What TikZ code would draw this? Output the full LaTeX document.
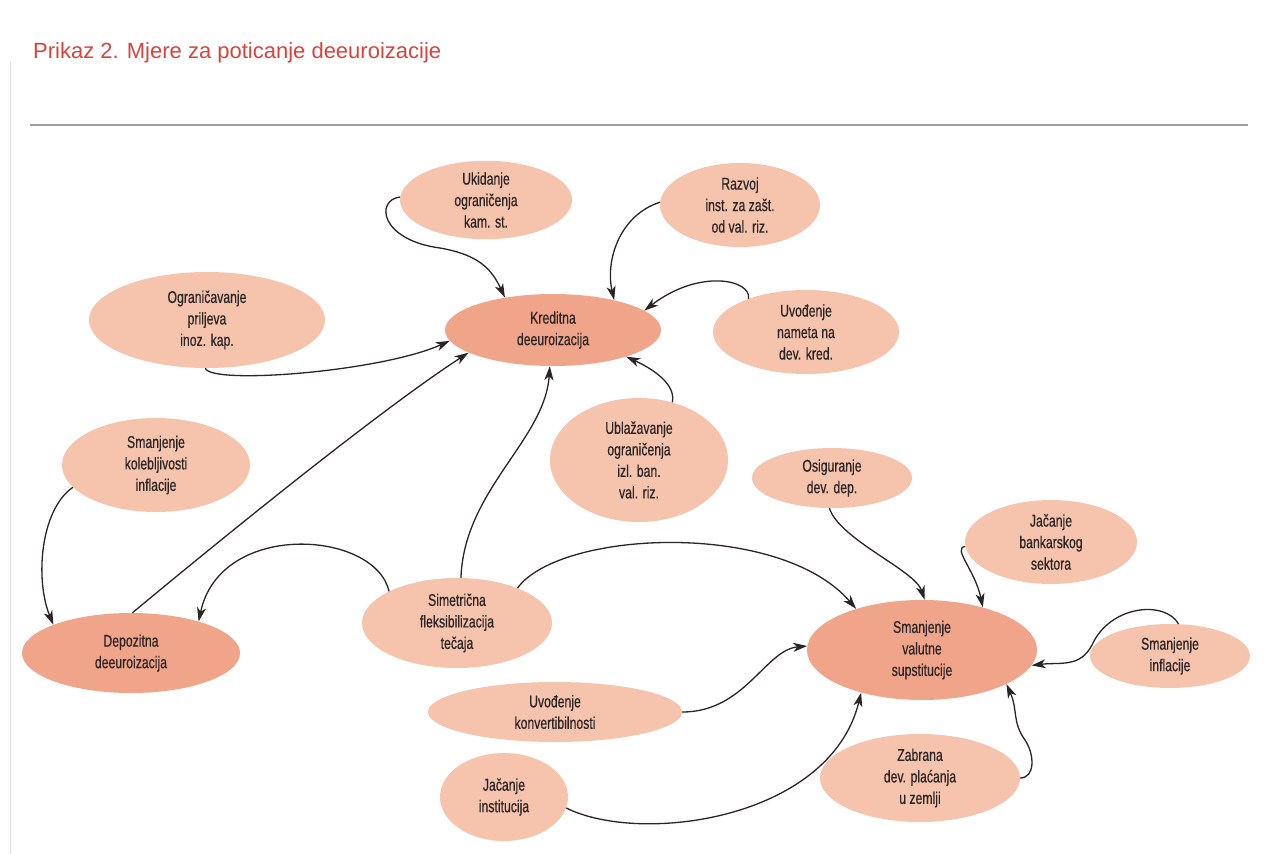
\documentclass[tikz,border=0pt]{standalone}
\usepackage{fontspec}
\setmainfont{Liberation Sans}
\newfontfamily\nodefnt[FakeStretch=0.72,FakeBold=0.4]{Liberation Sans}
\usetikzlibrary{shapes.geometric,arrows.meta}
\definecolor{lightfill}{HTML}{F6C3AD}
\definecolor{darkfill}{HTML}{F0A489}
\definecolor{titlered}{HTML}{D8433E}
\definecolor{ink}{HTML}{2B2424}
\tikzset{
  ell/.style={ellipse, fill=lightfill, draw=none, inner sep=0pt, align=center, text=ink,
    font=\nodefnt\fontsize{17}{21.5}\selectfont},
  dk/.style={fill=darkfill},
  sz/.style 2 args={minimum width=#1pt, minimum height=#2pt},
  conn/.style={draw=ink, line width=1.3pt, -{Stealth[length=14pt,width=9pt,inset=4pt]}}
}
\begin{document}
\begin{tikzpicture}[x=1pt,y=-1pt]
\useasboundingbox (0,0) rectangle (1267,854);
\fill[white] (0,0) rectangle (1267,854);
% page frame and rule
\draw[color=gray!25, line width=1pt] (10,62) -- (10,854);
\draw[color=gray!75, line width=1.3pt] (30,125) -- (1248,125);
\node[anchor=base west, inner sep=0pt, text=titlered, font=\fontsize{22}{26}\selectfont] (title) at (33,58) {Prikaz 2. Mjere za poticanje deeuroizacije};

% nodes
\node[ell,sz={172}{74}] (uk) at (486,200) {Ukidanje\\ograničenja\\kam. st.};
\node[ell,sz={160}{84}] (rz) at (740,205) {Razvoj\\inst. za zašt.\\od val. riz.};
\node[ell,dk,sz={216}{72}] (kr) at (553,330) {Kreditna\\deeuroizacija};
\node[ell,sz={236}{96}] (og) at (207,320) {Ograničavanje\\priljeva\\inoz. kap.};
\node[ell,sz={186}{84}] (un) at (806,332) {Uvođenje\\nameta na\\dev. kred.};
\node[ell,sz={188}{94}] (sk) at (156,465) {Smanjenje\\kolebljivosti\\inflacije};
\node[ell,sz={178}{124}] (ub) at (639,460) {Ublažavanje\\ograničenja\\izl. ban.\\val. riz.};
\node[ell,sz={160}{60}] (os) at (832,478) {Osiguranje\\dev. dep.};
\node[ell,sz={172}{84}] (jb) at (1051,542) {Jačanje\\bankarskog\\sektora};
\node[ell,dk,sz={218}{80}] (dp) at (131,653) {Depozitna\\deeuroizacija};
\node[ell,sz={190}{90}] (si) at (457,623) {Simetrična\\fleksibilizacija\\tečaja};
\node[ell,dk,sz={230}{100}] (sv) at (922,650) {Smanjenje\\valutne\\supstitucije};
\node[ell,sz={160}{64}] (sn) at (1170,656) {Smanjenje\\inflacije};
\node[ell,sz={254}{60}] (uc) at (555,712) {Uvođenje\\konvertibilnosti};
\node[ell,sz={128}{88}] (ji) at (504,797) {Jačanje\\institucija};
\node[ell,sz={200}{88}] (zb) at (920,778) {Zabrana\\dev. plaćanja\\u zemlji};

% connectors to Kreditna deeuroizacija
\draw[conn] (uk.178) .. controls (375,200) and (380,240) .. (440,248) .. controls (480,255) and (492,270) .. (kr.146);
\draw[conn] (rz.178) .. controls (620,215) and (605,260) .. (kr.26);
\draw[conn] (un.150) .. controls (752,280) and (700,268) .. (kr.12);
\draw[conn] (og.268) .. controls (210,385) and (380,372) .. (kr.186);
\draw[conn] (dp.88) .. controls (220,540) and (380,410) .. (kr.195);
\draw[conn] (si.85) .. controls (464,490) and (545,440) .. (kr.265);
\draw[conn] (ub.60) .. controls (676,385) and (655,370) .. (kr.340);
% connectors to Depozitna deeuroizacija
\draw[conn] (sk.195) .. controls (40,510) and (35,580) .. (dp.160);
\draw[conn] (si.155) .. controls (375,530) and (220,520) .. (dp.25);
% connectors to Smanjenje valutne supstitucije
\draw[conn] (si.30) .. controls (560,530) and (780,520) .. (sv.148);
\draw[conn] (os.265) .. controls (840,540) and (915,570) .. (sv.87);
\draw[conn] (jb.183) .. controls (952,548) and (975,570) .. (sv.35);
\draw[conn] (sn.75) .. controls (1165,600) and (1110,605) .. (1092,645) .. controls (1080,668) and (1060,662) .. (sv.352);
\draw[conn] (uc.east) .. controls (745,712) and (765,650) .. (sv.178);
\draw[conn] (ji.350) .. controls (640,845) and (830,820) .. (sv.215);
\draw[conn] (zb.east) .. controls (1035,778) and (1035,755) .. (1025,740) .. controls (1012,722) and (1018,710) .. (sv.338);
\end{tikzpicture}
\end{document}
